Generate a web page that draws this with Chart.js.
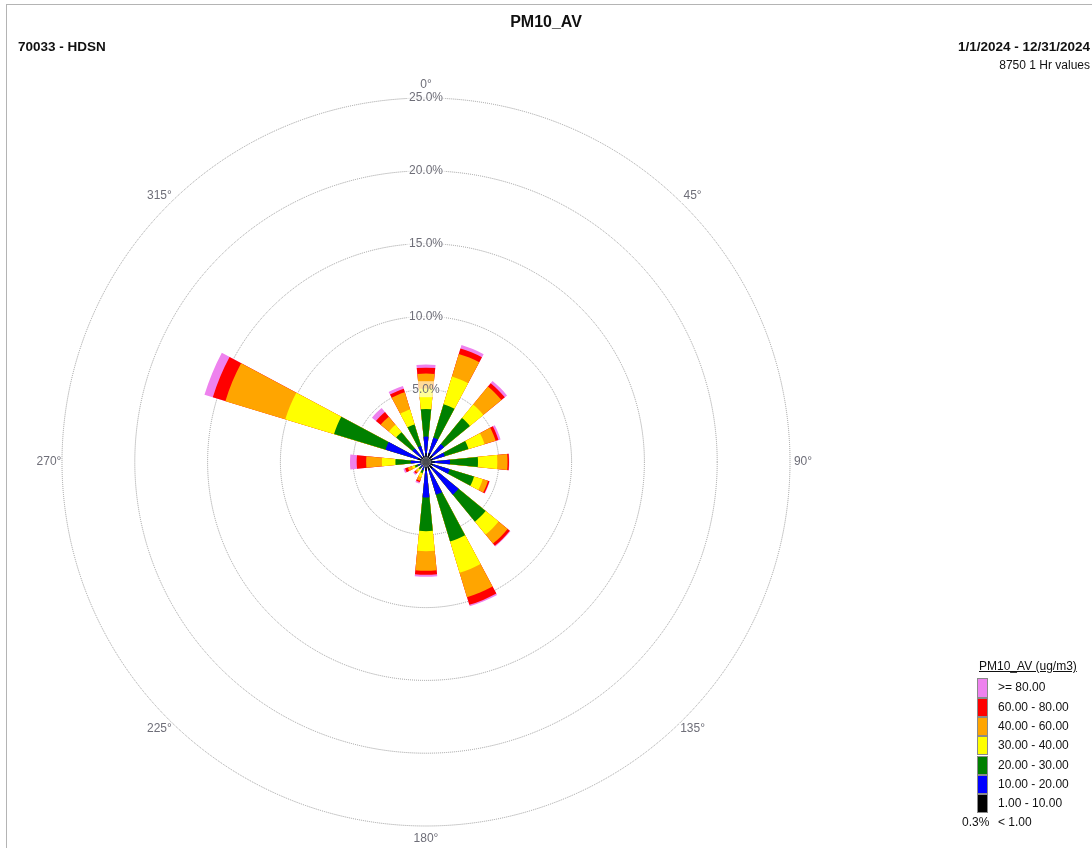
<!DOCTYPE html>
<html>
<head>
<meta charset="utf-8">
<title>PM10_AV</title>
<script src="https://cdn.jsdelivr.net/npm/chart.js@4.4.1/dist/chart.umd.min.js"></script>
<style>
  html, body { margin: 0; padding: 0; background: #fff; }
  body { width: 1092px; height: 848px; position: relative; overflow: hidden;
         font-family: "Liberation Sans", Arial, sans-serif; color: #111; }
  #frame { position: absolute; left: 6px; top: 4px; width: 1200px; height: 1000px;
           border-left: 1px solid #b4b4b4; border-top: 1px solid #b4b4b4; }
  #wrap { position: absolute; left: 0; top: 0; width: 1092px; height: 848px; }
  .txt { position: absolute; white-space: nowrap; }
  #title { left: 0; width: 1092px; text-align: center; top: 12px; font-size: 16px; font-weight: bold; line-height: 20px; }
  #site { left: 18px; top: 39px; font-size: 13.5px; font-weight: bold; line-height: 16px; }
  #dates { right: 2px; top: 39px; font-size: 13.5px; font-weight: bold; line-height: 16px; }
  #count { right: 2px; top: 58px; font-size: 12px; line-height: 14px; }
  #legTitle { left: 979px; top: 659px; font-size: 12px; line-height: 14px; text-decoration: underline; }
  .sw { position: absolute; left: 977px; width: 9px; border: 1px solid #8a8a8a; box-sizing: content-box; }
  .lt { position: absolute; left: 998px; font-size: 12px; white-space: nowrap; }
</style>
</head>
<body>
<div id="frame"></div>
<div id="wrap"><canvas id="rose"></canvas></div>
<div class="txt" id="title">PM10_AV</div>
<div class="txt" id="site">70033 - HDSN</div>
<div class="txt" id="dates">1/1/2024 - 12/31/2024</div>
<div class="txt" id="count">8750 1 Hr values</div>
<div class="txt" id="legTitle">PM10_AV (ug/m3)</div>
<div id="legend"></div>
<script>
// Directions N..NNW (clockwise), values in % of hours per concentration bin
const directions = ['N','NNE','NE','ENE','E','ESE','SE','SSE','S','SSW','SW','WSW','W','WNW','NW','NNW'];
const calmPct = 0.3;

const bin1to10   = [0.60,0.65,0.60,0.50,0.60,0.50,0.60,0.60,0.60,0.30,0.30,0.30,0.40,0.60,0.45,0.45];
const bin10to20  = [1.15,1.10,1.00,0.85,1.05,1.20,2.30,1.75,1.84,0.30,0.20,0.30,0.65,2.30,0.75,0.70];
const bin20to30  = [1.89,2.40,2.30,1.70,1.92,1.75,2.40,3.35,2.31,0.20,0.15,0.20,1.05,3.70,1.45,1.55];
const bin30to40  = [1.41,1.99,1.20,1.15,1.33,0.62,1.15,2.25,1.38,0.30,0.15,0.20,0.93,3.50,0.65,1.06];
const bin40to60  = [1.02,1.62,1.60,0.80,0.70,0.38,0.80,1.75,1.34,0.25,0.15,0.30,1.08,4.30,0.73,1.24];
const bin60to80  = [0.41,0.39,0.30,0.20,0.10,0.10,0.20,0.55,0.28,0.10,0.10,0.20,0.65,0.90,0.41,0.25];
const bin80plus  = [0.22,0.25,0.20,0.15,0.02,0.03,0.05,0.10,0.13,0.10,0.10,0.12,0.46,0.60,0.36,0.20];

const binLabels = ['1.00 - 10.00','10.00 - 20.00','20.00 - 30.00','30.00 - 40.00','40.00 - 60.00','60.00 - 80.00','>= 80.00'];
const binColors = ['#000000','#0000FF','#008000','#FFFF00','#FFA500','#FF0000','#EE82EE'];
const rTicks = [5, 10, 15, 20, 25];
const degLabels = ['0°','45°','90°','135°','180°','225°','270°','315°'];
const degAngles = [0, 45, 90, 135, 180, 225, 270, 315];

const bins = [bin1to10, bin10to20, bin20to30, bin30to40, bin40to60, bin60to80, bin80plus];

// running totals so each bin is drawn as a ring on top of the next
const cumulative = [];
bins.forEach((b, k) => {
    cumulative.push(b.map((v, d) => v + (k ? cumulative[k - 1][d] : 0)));
});

// arcs go clockwise from 0°: a leading gap, then NNE..NNW with gaps, then N last,
// so every wedge is centred on its direction and half as wide as its sector
function ringData(vals) {
    const out = [0];
    for (let i = 1; i < 16; i++) { out.push(vals[i]); out.push(0); }
    out.push(vals[0]);
    return out;
}
const sliceLabels = ringData(directions.map(d => d)).map(v => v === 0 ? '' : v);

const degPlugin = {
    id: 'degLabels',
    afterDraw(chart) {
        const s = chart.scales.r;
        const ctx = chart.ctx;
        const R = s.drawingArea + 13;
        ctx.save();
        ctx.font = '12px "Liberation Sans", Arial, sans-serif';
        ctx.fillStyle = '#6e6e78';
        ctx.textAlign = 'center';
        ctx.textBaseline = 'middle';
        degAngles.forEach((a, i) => {
            const t = a * Math.PI / 180;
            ctx.fillText(degLabels[i], s.xCenter + R * Math.sin(t), s.yCenter - R * Math.cos(t));
        });
        // calm circle
        const rc = s.getDistanceFromCenterForValue(calmPct);
        ctx.beginPath();
        ctx.arc(s.xCenter, s.yCenter, rc, 0, Math.PI * 2);
        ctx.fillStyle = 'rgba(90,90,90,0.7)';
        ctx.fill();
        ctx.strokeStyle = '#777';
        ctx.lineWidth = 1;
        ctx.stroke();
        ctx.restore();
    }
};

new Chart(document.getElementById('rose'), {
    type: 'polarArea',
    data: {
        labels: sliceLabels,
        datasets: cumulative.map((c, k) => ({
            label: binLabels[k],
            data: ringData(c),
            backgroundColor: binColors[k],
            borderWidth: 0,
            angle: ctx => ctx.dataIndex === 0 ? 16.875 : 11.25
        }))
    },
    options: {
        responsive: true,
        maintainAspectRatio: false,
        animation: false,
        layout: { padding: { left: 54, top: 90, right: 294, bottom: 14 } },
        plugins: { legend: { display: false }, tooltip: { enabled: false } },
        scales: {
            r: {
                min: 0,
                max: 25,
                startAngle: 0,
                afterBuildTicks: axis => { axis.ticks = [0].concat(rTicks).map(v => ({ value: v })); },
                ticks: {
                    z: 1,
                    callback: v => v.toFixed(1) + '%',
                    color: '#6e6e78',
                    font: { size: 12, family: '"Liberation Sans", Arial, sans-serif' },
                    backdropColor: 'rgba(255,255,255,0.6)',
                    backdropPadding: 2
                },
                grid: { circular: true, color: '#9a9a9a', lineWidth: 1 },
                border: { dash: [1, 1] },
                angleLines: { display: false },
                pointLabels: { display: false }
            }
        }
    },
    plugins: [degPlugin]
});

// legend, highest bin on top
const leg = document.getElementById('legend');
const rowH = 19.3, top0 = 678.3;
for (let i = 0; i < binLabels.length; i++) {
    const k = binLabels.length - 1 - i;
    const y = top0 + i * rowH;
    const sw = document.createElement('div');
    sw.className = 'sw';
    sw.style.top = y + 'px';
    sw.style.height = (rowH - 2) + 'px';
    sw.style.background = binColors[k];
    leg.appendChild(sw);
    const t = document.createElement('div');
    t.className = 'lt';
    t.style.top = y + 'px';
    t.style.lineHeight = rowH + 'px';
    t.textContent = binLabels[k];
    leg.appendChild(t);
}
const calmY = top0 + binLabels.length * rowH;
const cl = document.createElement('div');
cl.className = 'lt';
cl.style.top = calmY + 'px';
cl.style.lineHeight = rowH + 'px';
cl.style.left = '962px';
cl.textContent = calmPct.toFixed(1) + '%';
leg.appendChild(cl);
const ct = document.createElement('div');
ct.className = 'lt';
ct.style.top = calmY + 'px';
ct.style.lineHeight = rowH + 'px';
ct.textContent = '< 1.00';
leg.appendChild(ct);
</script>
</body>
</html>
